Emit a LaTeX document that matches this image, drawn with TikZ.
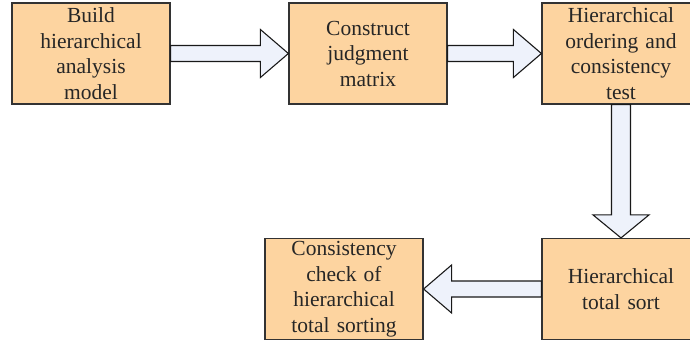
\documentclass[tikz,border=0pt]{standalone}
\usepackage{fontspec}
\setmainfont{Liberation Serif}
\usetikzlibrary{calc}
\definecolor{boxfill}{HTML}{FDD4A0}
\definecolor{arrfill}{HTML}{EEF2FB}
\definecolor{edge}{HTML}{333333}
\tikzset{
  stepbox/.style={draw=edge, line width=1.2pt, fill=boxfill, minimum width=158pt, minimum height=101pt,
    inner sep=0pt, align=center, text width=150pt,
    font=\fontsize{21.5pt}{25.5pt}\selectfont, text=black!85},
  fatarrow/.style={draw=black!90, line width=1.1pt, fill=arrfill, line join=miter}
}
\begin{document}
\begin{tikzpicture}[x=1pt,y=-1pt]
\useasboundingbox (0,0) rectangle (690,345);
\clip (0,0) rectangle (690,345);
\node[stepbox] (b1) at (91,53.5) {Build\\hierarchical\\analysis\\model};
\node[stepbox] (b2) at (368,53.5) {Construct\\judgment\\matrix};
\node[stepbox] (b3) at (621,53.5) {Hierarchical\\ordering and\\consistency\\test};
\node[stepbox] (b4) at (621,289) {Hierarchical\\total sort};
\node[stepbox] (b5) at (344,289) {Consistency\\check of\\hierarchical\\total sorting};
% arrow b1 -> b2
\draw[fatarrow] ($(b1.east)+(0,-8)$) -- ($(b2.west)+(-28,-8)$) -- ($(b2.west)+(-28,-24)$) -- (b2.west)
  -- ($(b2.west)+(-28,24)$) -- ($(b2.west)+(-28,8)$) -- ($(b1.east)+(0,8)$) -- cycle;
% arrow b2 -> b3
\draw[fatarrow] ($(b2.east)+(0,-8)$) -- ($(b3.west)+(-28,-8)$) -- ($(b3.west)+(-28,-24)$) -- (b3.west)
  -- ($(b3.west)+(-28,24)$) -- ($(b3.west)+(-28,8)$) -- ($(b2.east)+(0,8)$) -- cycle;
% arrow b3 -> b4
\draw[fatarrow] ($(b3.south)+(-9.5,0)$) -- ($(b4.north)+(-9.5,-23)$) -- ($(b4.north)+(-28,-23)$) -- (b4.north)
  -- ($(b4.north)+(28,-23)$) -- ($(b4.north)+(9.5,-23)$) -- ($(b3.south)+(9.5,0)$) -- cycle;
% arrow b4 -> b5
\draw[fatarrow] ($(b4.west)+(0,-8)$) -- ($(b5.east)+(28,-8)$) -- ($(b5.east)+(28,-24)$) -- (b5.east)
  -- ($(b5.east)+(28,24)$) -- ($(b5.east)+(28,8)$) -- ($(b4.west)+(0,8)$) -- cycle;
\end{tikzpicture}
\end{document}
